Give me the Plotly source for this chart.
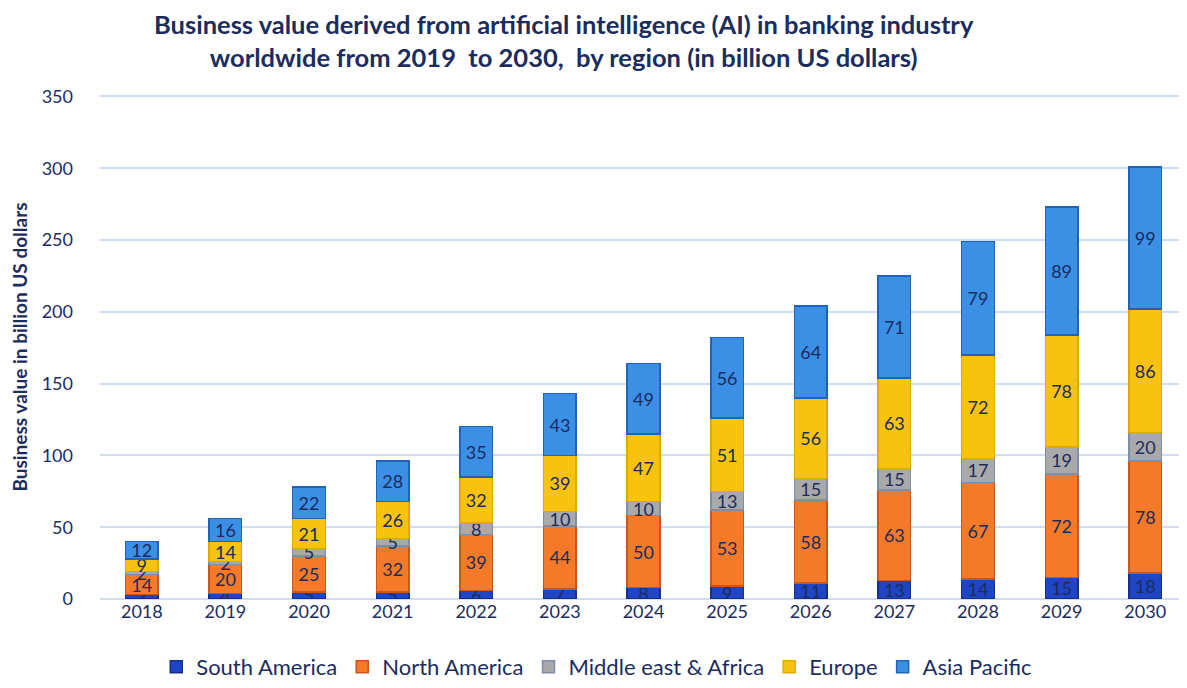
import plotly.graph_objects as go

years = ["2018", "2019", "2020", "2021", "2022", "2023", "2024", "2025", "2026", "2027", "2028", "2029", "2030"]
south_america = [3, 4, 5, 5, 6, 7, 8, 9, 11, 13, 14, 15, 18]
north_america = [14, 20, 25, 32, 39, 44, 50, 53, 58, 63, 67, 72, 78]
middle_east_africa = [2, 2, 5, 5, 8, 10, 10, 13, 15, 15, 17, 19, 20]
europe = [9, 14, 21, 26, 32, 39, 47, 51, 56, 63, 72, 78, 86]
asia_pacific = [12, 16, 22, 28, 35, 43, 49, 56, 64, 71, 79, 89, 99]

series = [
    ("South America", south_america, "#1f45c4", "#16308a"),
    ("North America", north_america, "#f47a2a", "#c9561a"),
    ("Middle east & Africa", middle_east_africa, "#a9a9a9", "#7e8ea8"),
    ("Europe", europe, "#f7c30e", "#e0a800"),
    ("Asia Pacific", asia_pacific, "#3b90e6", "#1f64b8"),
]

FONT = "Lato, Open Sans, sans-serif"
NAVY = "#1b2c5e"

fig = go.Figure()
for name, vals, col, edge in series:
    fig.add_trace(go.Bar(
        name=name, x=years, y=vals,
        marker=dict(color=col, line=dict(color=edge, width=1.5)),
        text=vals, textposition="inside", insidetextanchor="middle",
        constraintext="none", textangle=0,
        textfont=dict(family=FONT, size=18, color=NAVY),
    ))

fig.update_layout(
    barmode="stack",
    bargap=0.61,
    width=1179, height=680,
    margin=dict(l=92, r=0, t=87, b=89, autoexpand=False),
    plot_bgcolor="white", paper_bgcolor="white",
    font=dict(family=FONT, color=NAVY),
    annotations=[dict(
        text="<b>Business value derived from artificial intelligence (AI) in banking industry<br>worldwide from 2019  to 2030,  by region (in billion US dollars)</b>",
        xref="paper", yref="paper", x=0.427, xanchor="center",
        y=1.108, yanchor="middle", showarrow=False, align="center",
        font=dict(family=FONT, size=25.5, color=NAVY),
    )],
    xaxis=dict(
        tickfont=dict(family=FONT, size=18, color=NAVY),
        showgrid=False, showline=False, ticks="",
    ),
    yaxis=dict(
        range=[0, 351], dtick=50,
        tickfont=dict(family=FONT, size=18, color=NAVY),
        gridcolor="#cfdcf2", gridwidth=2,
        zeroline=True, zerolinecolor="#cfdcf2", zerolinewidth=2,
        title=dict(text="<b>Business value in billion US dollars</b>",
                   font=dict(family=FONT, size=19, color=NAVY), standoff=18),
        ticklabelstandoff=26,
    ),
    legend=dict(
        orientation="h", x=0.457, xanchor="center",
        yref="container", y=0.0, yanchor="bottom",
        font=dict(family=FONT, size=22, color=NAVY),
        traceorder="normal",
    ),
)

fig.write_html("out.html")
